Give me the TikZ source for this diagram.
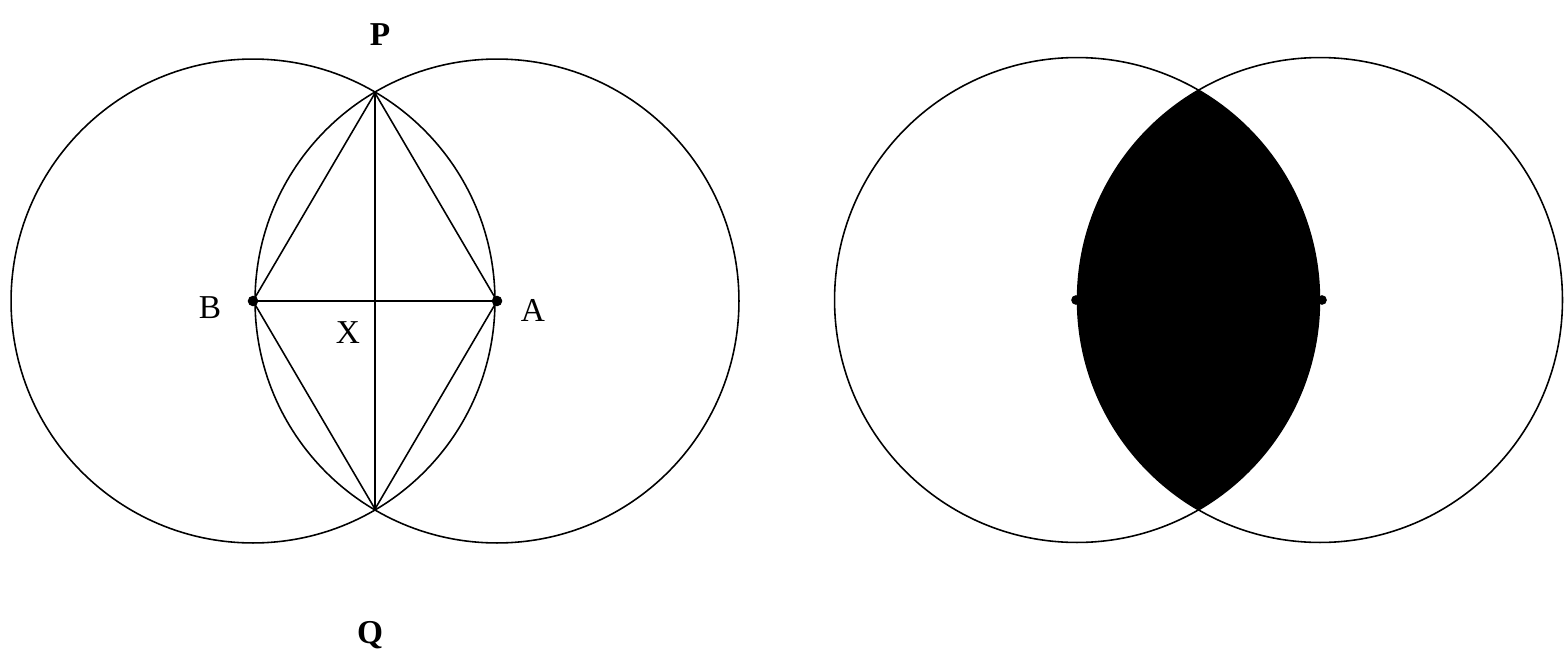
\documentclass[tikz,border=0pt]{standalone}
\usepackage{fontspec}
\setmainfont{Liberation Serif}
\begin{document}
\begin{tikzpicture}[x=0.02cm,y=-0.02cm, line width=0.9pt,
  dot/.style={circle,fill,inner sep=0pt,minimum size=6pt},
  smalldot/.style={circle,fill,inner sep=0pt,minimum size=5.5pt},
  lbl/.style={font=\fontsize{19}{21}\selectfont, inner sep=0pt},
  blbl/.style={font=\fontsize{19}{21}\selectfont\bfseries, inner sep=0pt}]
\useasboundingbox (0,0) rectangle (1567,659);
% left figure
\coordinate (B) at (253,301);
\coordinate (A) at (497,301);
\coordinate (P) at (375,93);
\coordinate (Q) at (375,509);
\draw (B) circle (4.84cm);
\draw (A) circle (4.84cm);
\draw (P) -- (Q);
\draw (B) -- (A);
\draw (P) -- (B) -- (Q) -- (A) -- cycle;
\node[dot] (dB) at (B) {};
\node[dot] (dA) at (A) {};
\node[blbl] (lP) at (380,35) {P};
\node[blbl] (lQ) at (370,635) {Q};
\node[lbl] (lB) at (210,308) {B};
\node[lbl] (lA) at (533,310) {A};
\node[lbl] (lX) at (348,333) {X};
% right figure
\coordinate (C1) at (1077,300);
\coordinate (C2) at (1320,300);
\begin{scope}
  \clip (C1) circle (4.85cm);
  \fill (C2) circle (4.85cm);
\end{scope}
\draw (C1) circle (4.85cm);
\draw (C2) circle (4.85cm);
\node[smalldot] (dC1) at (1076,300) {};
\node[smalldot] (dC2) at (1322,300) {};
\end{tikzpicture}
\end{document}
